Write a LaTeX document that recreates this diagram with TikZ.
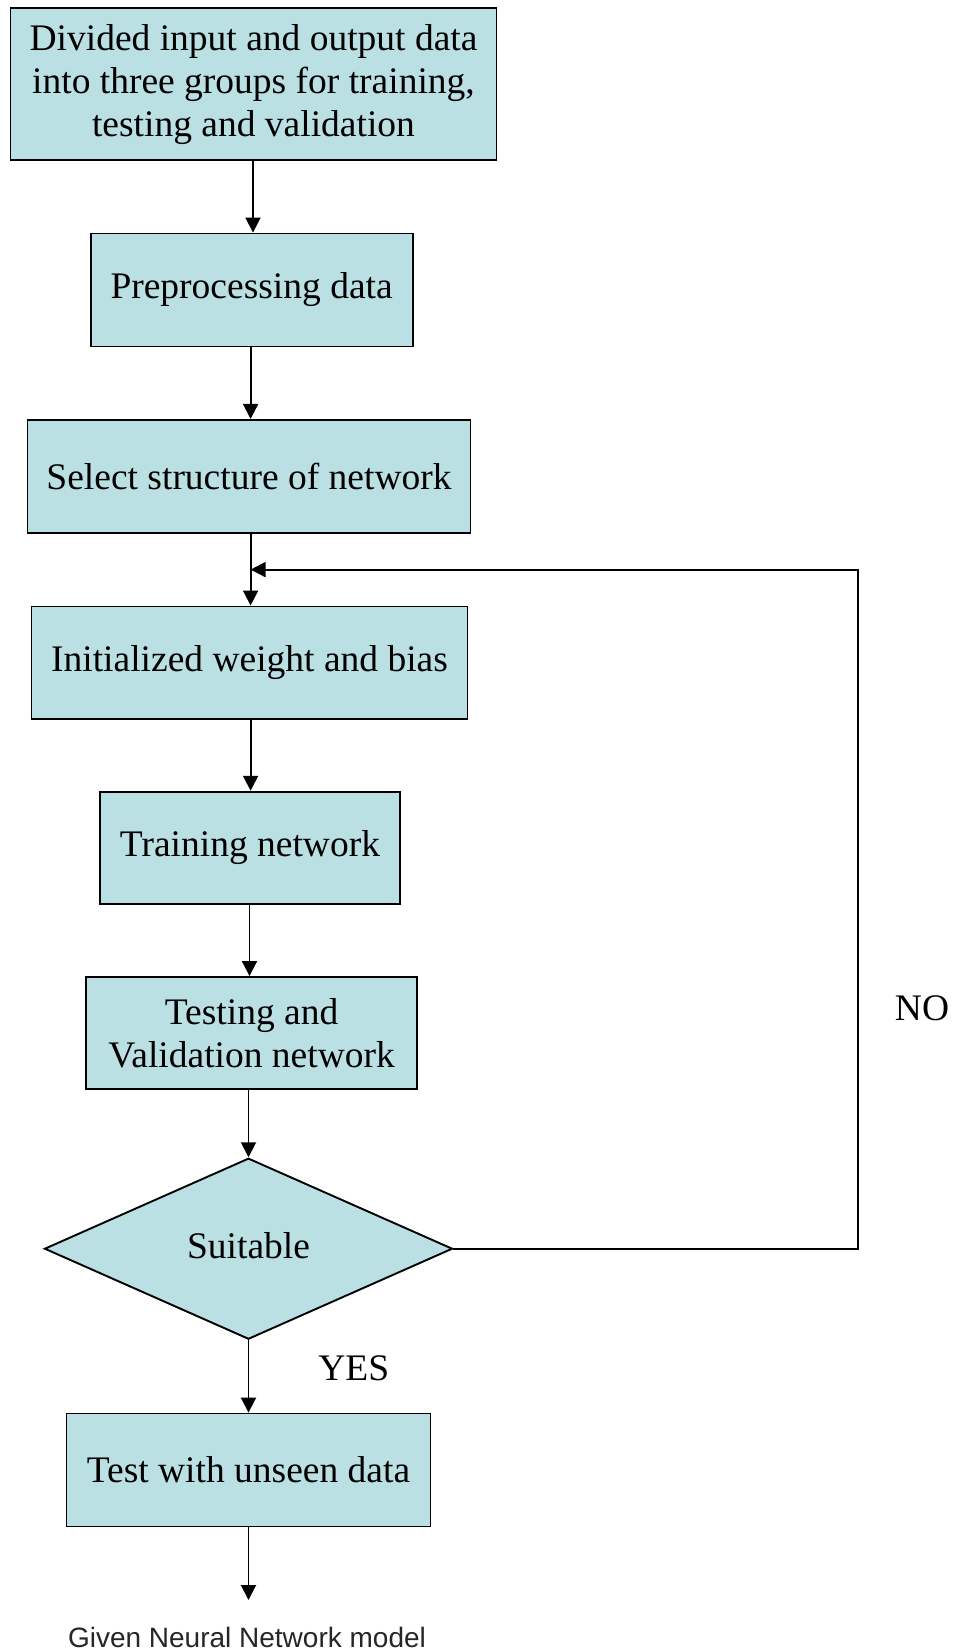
\documentclass[tikz,border=0pt]{standalone}
\usepackage{fontspec}
\setmainfont{Liberation Serif}
\newfontfamily\arialfont{Liberation Sans}
\usetikzlibrary{shapes.geometric,arrows.meta}
\definecolor{boxfill}{RGB}{187,224,227}
\tikzset{
  stepbox/.style={draw=black, fill=boxfill, line width=1.9pt, inner sep=0pt, align=center,
    font=\fontsize{37.5}{43}\selectfont},
  decide/.style={diamond, draw=black, fill=boxfill, line width=1.9pt, inner sep=0pt,
    minimum width=408pt, minimum height=181pt, aspect=2.25, font=\fontsize{37.5}{43}\selectfont},
  arr/.style={line width=1.9pt, -{Triangle[length=15pt,width=15pt]}},
  lbl/.style={font=\fontsize{37.5}{43}\selectfont, inner sep=0pt}
}
\begin{document}
\begin{tikzpicture}[x=1pt,y=-1pt]
\useasboundingbox (0,0) rectangle (956,1651);
\node[stepbox, minimum width=486pt, minimum height=152pt] (b1) at (253.5,84.2)
  {Divided input and output data\\into three groups for training,\\testing and validation};
\node[stepbox, minimum width=322pt, minimum height=113pt] (b2) at (251.6,290) {Preprocessing data};
\node[stepbox, minimum width=443pt, minimum height=113pt] (b3) at (249,476.4) {Select structure of network};
\node[stepbox, minimum width=436pt, minimum height=112.5pt] (b4) at (249.5,662.7) {Initialized weight and bias};
\node[stepbox, minimum width=300pt, minimum height=112.6pt] (b5) at (250,848) {Training network};
\node[stepbox, minimum width=331pt, minimum height=112pt] (b6) at (251.6,1033) {Testing and\\Validation network};
\node[decide] (d) at (248.5,1248.7) {\raisebox{6pt}{Suitable}};
\node[stepbox, minimum width=364pt, minimum height=113pt] (b7) at (248.5,1470) {Test with unseen data};
\node[font=\arialfont\fontsize{28}{33}\selectfont, text=black!85, inner sep=0pt] (out) at (247,1637) {Given Neural Network model};
\node[lbl] (no) at (922,1008.7) {NO};
\node[lbl] (yes) at (353.8,1368.7) {YES};
\coordinate (endp) at (248.5,1600);
\coordinate (join) at (250.6,569.6);
\coordinate (rt) at (858,569.6);
\coordinate (rb) at (858,1248.7);

\draw[arr] (b1.south -| 253,0) -- (b2.north -| 253,0);
\draw[arr] (b2.south -| 250.6,0) -- (b3.north -| 250.6,0);
\draw[arr] (b3.south -| 250.6,0) -- (b4.north -| 250.6,0);
\draw[arr] (b4.south -| 250.6,0) -- (b5.north -| 250.6,0);
\draw[arr] (b5.south -| 249.5,0) -- (b6.north -| 249.5,0);
\draw[arr] (b6.south -| 248.5,0) -- (d.north);
\draw[arr] (d.south) -- (b7.north -| d.south);
\draw[arr] (b7.south -| 248.5,0) -- (endp);
\draw[arr] (d.east) -- (rb) -- (rt) -- (join);
\end{tikzpicture}
\end{document}
